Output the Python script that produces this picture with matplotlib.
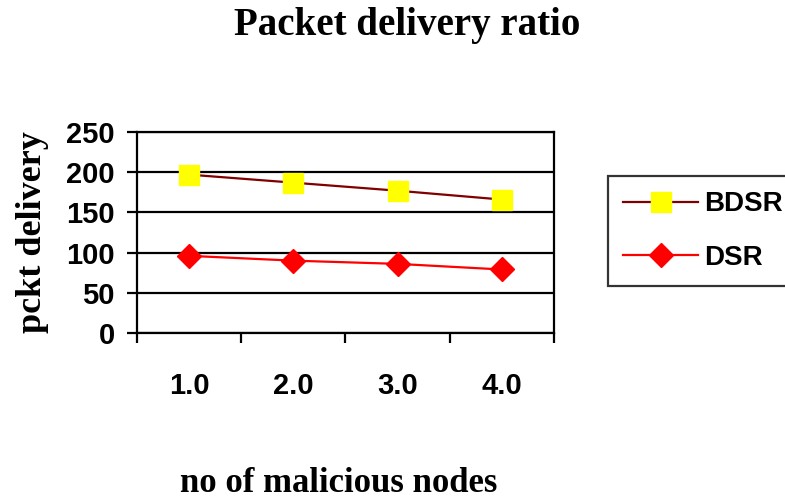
import matplotlib.pyplot as plt

categories = ["1.0", "2.0", "3.0", "4.0"]
bdsr = [197, 187, 177, 166]
dsr = [96, 90, 86, 79]
y_ticks = [0, 50, 100, 150, 200, 250]

fig = plt.figure(figsize=(7.85, 5.01), dpi=100)
ax = fig.add_axes([0.1745, 0.3353, 0.5312, 0.4012])

x = range(len(categories))
ax.plot(x, bdsr, color="#800000", lw=1.6, marker="s", ms=14,
        mfc="#ffff00", mec="#ffff00", label="BDSR", zorder=3)
ax.plot(x, dsr, color="#ff0000", lw=1.6, marker="D", ms=12,
        mfc="#ff0000", mec="#ff0000", label="DSR", zorder=3)

ax.set_xlim(-0.5, len(categories) - 0.5)
ax.set_ylim(0, 250)
ax.set_yticks(y_ticks)
ax.yaxis.grid(True, color="black", lw=1.6)
ax.set_axisbelow(True)

# category labels centred, ticks at the boundaries
ax.set_xticks([i + 0.5 for i in range(-1, len(categories))])
ax.set_xticklabels([])
ax.set_xticks(list(x), minor=True)
ax.set_xticklabels(categories, minor=True, fontfamily="Liberation Sans",
                   fontweight="bold", fontsize=21)
ax.tick_params(axis="x", which="minor", length=0, pad=28)
ax.tick_params(axis="x", which="major", direction="out", length=7, width=1.6)
ax.tick_params(axis="y", direction="out", length=7, width=1.6, pad=9)
for lab in ax.get_yticklabels():
    lab.set_fontfamily("Liberation Sans")
    lab.set_fontweight("bold")
    lab.set_fontsize(21)

for s in ax.spines.values():
    s.set_linewidth(1.6)
    s.set_color("black")

fig.text(0.041, 0.537, "pckt delivery", rotation=90, ha="center", va="center",
         fontfamily="Liberation Serif", fontweight="bold", fontsize=26)
fig.text(0.432, 0.034, "no of malicious nodes", ha="center", va="center",
         fontfamily="Liberation Serif", fontweight="bold", fontsize=25)
fig.text(0.519, 0.95, "Packet delivery ratio", ha="center", va="center",
         fontfamily="Liberation Serif", fontweight="bold", fontsize=28)

leg = fig.legend(loc="upper left", bbox_to_anchor=(0.7745, 0.6487),
                 prop={"family": "Liberation Sans", "weight": "bold", "size": 20},
                 frameon=True, fancybox=False, edgecolor="black",
                 handlelength=2.7, handletextpad=0.2, labelspacing=1.0,
                 borderpad=0.55, borderaxespad=0)
leg.get_frame().set_linewidth(1.6)

fig.savefig("out.png", dpi=100)
